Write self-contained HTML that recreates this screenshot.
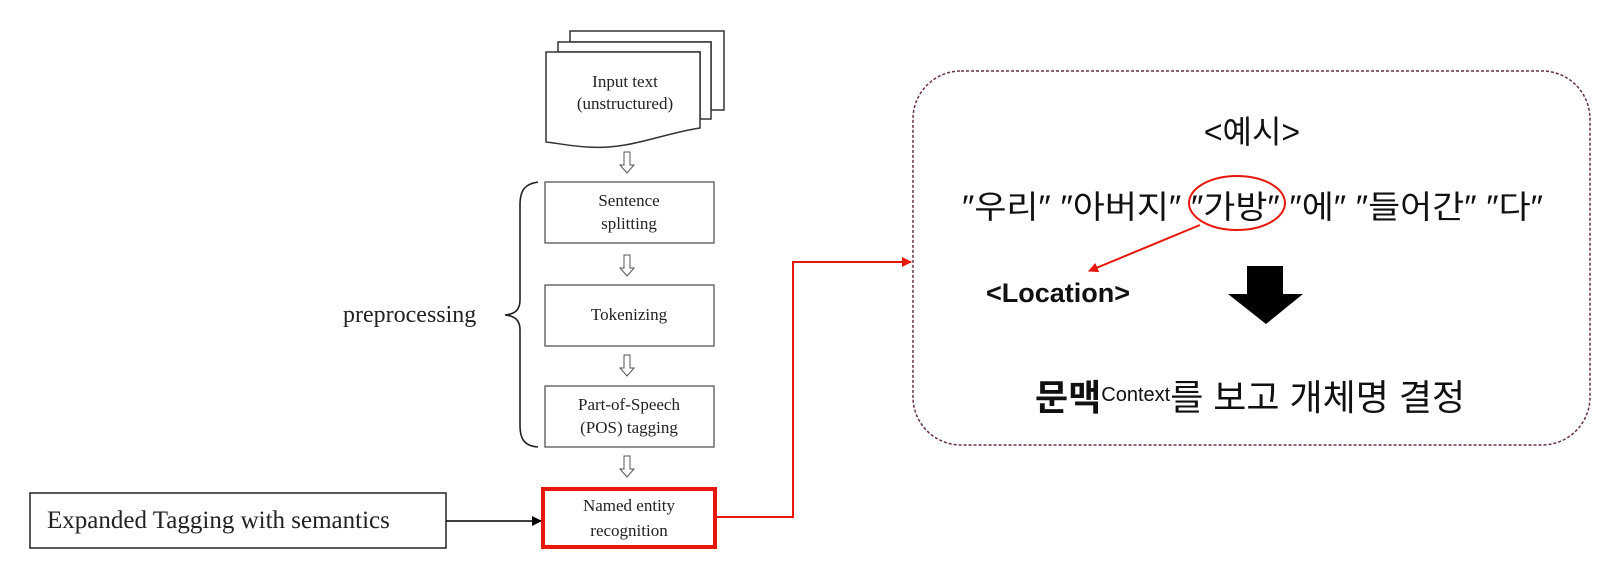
<!DOCTYPE html>
<html><head><meta charset="utf-8"><style>
html,body{margin:0;padding:0;background:#fff;}
svg{display:block;}
.s{font-family:"Liberation Serif",serif;fill:#222;}
.k{font-family:"Liberation Sans","Noto Sans CJK KR",sans-serif;fill:#111;}
</style></head><body>
<svg width="1609" height="576" viewBox="0 0 1609 576" xmlns="http://www.w3.org/2000/svg">
<defs>
<marker id="ra" markerWidth="10" markerHeight="10" refX="9" refY="5" orient="auto" markerUnits="userSpaceOnUse"><path d="M0,0 L10,5 L0,10 Z" fill="#e8170c"/></marker>
<marker id="ka" markerWidth="10" markerHeight="10" refX="9" refY="5" orient="auto" markerUnits="userSpaceOnUse"><path d="M0,0 L10,5 L0,10 Z" fill="#000"/></marker>
<g id="ha"><path d="M-3,0 L3,0 L3,13 L7,13 L0,21 L-7,13 L-3,13 Z" fill="#fff" stroke="#555" stroke-width="1"/></g>
</defs>
<path d="M570,31 H724 V110 H711 V42 H570 Z" fill="#fff" stroke="#333" stroke-width="1.5"/>
<path d="M558,42 H711 V119 H700 V52 H558 Z" fill="#fff" stroke="#333" stroke-width="1.5"/>
<path d="M546,52 H700 V128 C660,134 630,150 587,147 C570,146 556,143 546,142 Z" fill="#fff" stroke="#333" stroke-width="1.5"/>
<text class="s" x="625" y="87" font-size="17" text-anchor="middle">Input text</text>
<text class="s" x="625" y="109" font-size="17" text-anchor="middle">(unstructured)</text>
<use href="#ha" x="627" y="152"/>
<rect x="545" y="182" width="169" height="61" fill="#fff" stroke="#555" stroke-width="1.3"/>
<text class="s" x="629" y="206" font-size="17" text-anchor="middle">Sentence</text>
<text class="s" x="629" y="229" font-size="17" text-anchor="middle">splitting</text>
<use href="#ha" x="627" y="255"/>
<rect x="545" y="285" width="169" height="61" fill="#fff" stroke="#555" stroke-width="1.3"/>
<text class="s" x="629" y="320" font-size="17" text-anchor="middle">Tokenizing</text>
<use href="#ha" x="627" y="355"/>
<rect x="545" y="386" width="169" height="61" fill="#fff" stroke="#555" stroke-width="1.3"/>
<text class="s" x="629" y="410" font-size="17" text-anchor="middle">Part-of-Speech</text>
<text class="s" x="629" y="433" font-size="17" text-anchor="middle">(POS) tagging</text>
<use href="#ha" x="627" y="456"/>
<rect x="543" y="489" width="172" height="58" fill="#fff" stroke="#e8170c" stroke-width="4"/>
<text class="s" x="629" y="511" font-size="17" text-anchor="middle">Named entity</text>
<text class="s" x="629" y="536" font-size="17" text-anchor="middle">recognition</text>
<path d="M538,182 C525,184 520,190 520,205 L520,300 C520,310 515,314 505,315 C515,316 520,320 520,330 L520,425 C520,440 525,446 538,447" fill="none" stroke="#222" stroke-width="1.6"/>
<text class="s" x="343" y="322" font-size="24">preprocessing</text>
<rect x="30" y="493" width="416" height="55" fill="#fff" stroke="#222" stroke-width="1.5"/>
<text class="s" x="47" y="528" font-size="25">Expanded Tagging with semantics</text>
<line x1="446" y1="521" x2="541" y2="521" stroke="#000" stroke-width="1.5" marker-end="url(#ka)"/>
<polyline points="717,517 793,517 793,262 911,262" fill="none" stroke="#e8170c" stroke-width="2" marker-end="url(#ra)"/>
<rect x="913" y="71" width="677" height="374" rx="48" ry="48" fill="none" stroke="#6b3040" stroke-width="1.5" stroke-dasharray="3,2"/>
<text class="k" x="1252" y="143" font-size="32" text-anchor="middle">&lt;예시&gt;</text>
<text class="k" x="962" y="218" font-size="32" textLength="581" lengthAdjust="spacingAndGlyphs">″우리″ ″아버지″ ″가방″ ″에″ ″들어간″ ″다″</text>
<ellipse cx="1237" cy="203" rx="48" ry="27" fill="none" stroke="#e8170c" stroke-width="2"/>
<line x1="1200" y1="225" x2="1089" y2="271" stroke="#e8170c" stroke-width="2" marker-end="url(#ra)"/>
<text class="k" x="986" y="302" font-size="27" font-weight="bold">&lt;Location&gt;</text>
<path d="M1247,266 H1283 V294 H1303 L1266,324 L1228,294 H1247 Z" fill="#000"/>
<text class="k" x="1035" y="410" font-size="36"><tspan font-weight="bold">문맥</tspan><tspan font-size="20" dy="-9">Context</tspan><tspan dy="9">를 보고 개체명 결정</tspan></text>
</svg>
</body></html>
